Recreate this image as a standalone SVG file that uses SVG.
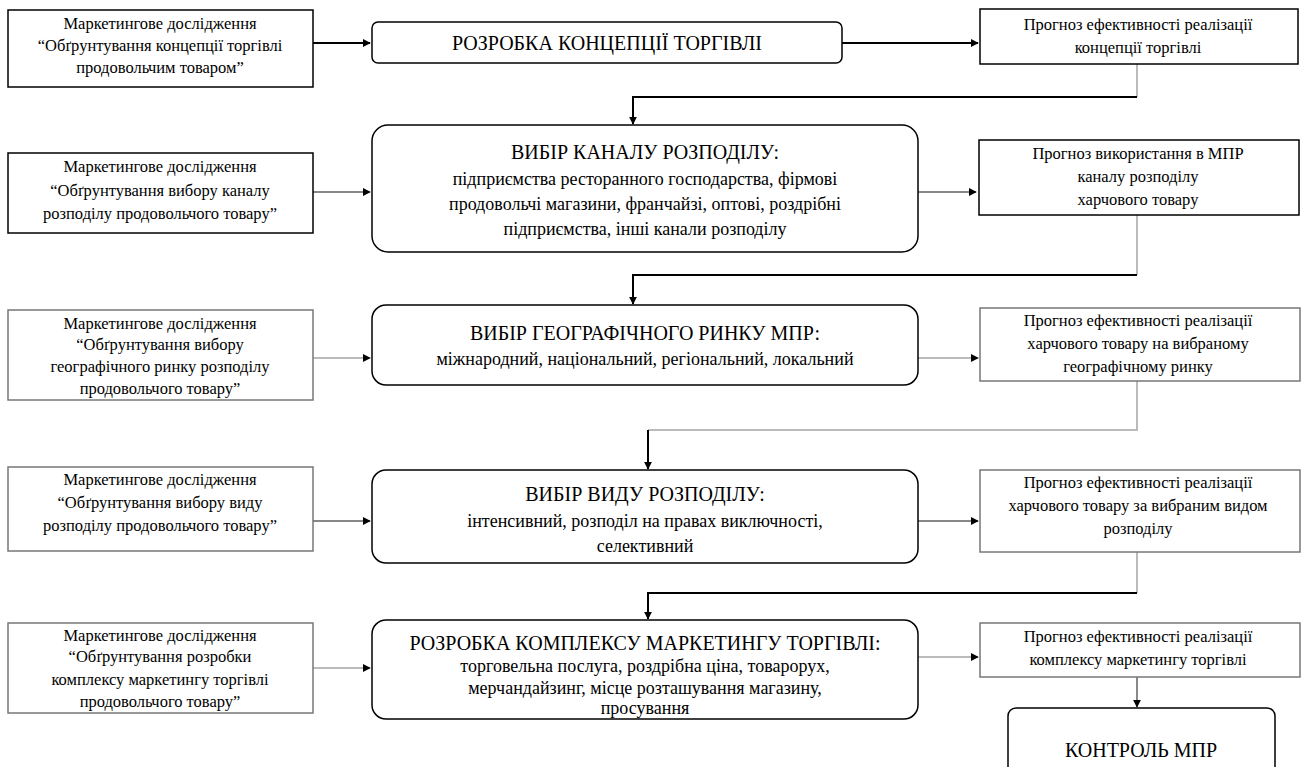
<svg xmlns="http://www.w3.org/2000/svg" width="1301" height="767" viewBox="0 0 1301 767">
<style>
.bg{fill:#fff}
.box{fill:#fff;stroke:#000;stroke-width:1.5}
.gbox{fill:#fff;stroke:#777;stroke-width:1.5}
text{font-family:"Liberation Serif","Tinos","Times New Roman","DejaVu Serif",serif;fill:#000;text-anchor:middle}
.s{font-size:16.5px}
.t{font-size:20px}
.m{font-size:18px}
.c{fill:none;stroke:#000;stroke-width:2}
.cg{fill:none;stroke:#888;stroke-width:2}
.cl{fill:none;stroke:#bbb;stroke-width:2}
</style>
<defs>
<marker id="ah" viewBox="0 0 10 10" refX="9" refY="5" markerWidth="4" markerHeight="4" orient="auto"><path d="M0,0 L10,5 L0,10 z" fill="#000"/></marker>
</defs>
<rect class="bg" width="1301" height="767"/>
<g id="connectors">
<path class="c" d="M313,43 H370" marker-end="url(#ah)"/>
<path class="c" d="M842,43 H978" marker-end="url(#ah)"/>
<path class="cl" d="M1137,64 V97"/>
<path class="c" d="M1137,97 H633 V124" marker-end="url(#ah)"/>
<path class="cg" d="M313,192 H370" marker-end="url(#ah)"/>
<path class="cg" d="M918,192 H976" marker-end="url(#ah)"/>
<path class="cl" d="M1137,215 V275"/>
<path class="c" d="M1137,275 H633 V304" marker-end="url(#ah)"/>
<path class="cl" d="M313,358 H370" marker-end="url(#ah)"/>
<path class="cl" d="M918,358 H978" marker-end="url(#ah)"/>
<path class="cl" d="M1137,381 V430 H648"/>
<path class="c" d="M648,430 V469" marker-end="url(#ah)"/>
<path class="cg" d="M313,521 H370" marker-end="url(#ah)"/>
<path class="cg" d="M918,521 H978" marker-end="url(#ah)"/>
<path class="cl" d="M1137,552 V593"/>
<path class="c" d="M1137,593 H648 V619" marker-end="url(#ah)"/>
<path class="cl" d="M313,668 H370" marker-end="url(#ah)"/>
<path class="cl" d="M918,657 H978" marker-end="url(#ah)"/>
<path class="cg" d="M1137,677 V707" marker-end="url(#ah)"/>
</g>
<g id="left1"><rect class="box" x="8" y="10" width="305" height="77"/>
<text class="s" x="160" y="29">Маркетингове дослідження</text>
<text class="s" x="160" y="51">“Обґрунтування концепції торгівлі</text>
<text class="s" x="160" y="73">продовольчим товаром”</text></g>
<g id="center1"><rect class="box" x="372" y="22" width="470" height="41" rx="6"/>
<text class="t" x="607" y="50">РОЗРОБКА КОНЦЕПЦІЇ ТОРГІВЛІ</text></g>
<g id="right1"><rect class="box" x="980" y="9" width="318" height="55"/>
<text class="s" x="1138" y="30">Прогноз ефективності реалізації</text>
<text class="s" x="1138" y="53">концепції торгівлі</text></g>

<g id="left2"><rect class="box" x="8" y="153" width="305" height="80"/>
<text class="s" x="160" y="172">Маркетингове дослідження</text>
<text class="s" x="160" y="196">“Обґрунтування вибору каналу</text>
<text class="s" x="160" y="219">розподілу продовольчого товару”</text></g>
<g id="center2"><rect class="box" x="372" y="125" width="546" height="127" rx="16"/>
<text class="t" x="645" y="159">ВИБІР КАНАЛУ РОЗПОДІЛУ:</text>
<text class="m" x="645" y="185">підприємства ресторанного господарства, фірмові</text>
<text class="m" x="645" y="210">продовольчі магазини, франчайзі, оптові, роздрібні</text>
<text class="m" x="645" y="235">підприємства, інші канали розподілу</text></g>
<g id="right2"><rect class="box" x="979" y="140" width="320" height="75"/>
<text class="s" x="1138" y="159">Прогноз використання в МПР</text>
<text class="s" x="1138" y="182">каналу розподілу</text>
<text class="s" x="1138" y="205">харчового товару</text></g>

<g id="left3"><rect class="gbox" x="8" y="310" width="305" height="90"/>
<text class="s" x="160" y="329">Маркетингове дослідження</text>
<text class="s" x="160" y="350">“Обґрунтування вибору</text>
<text class="s" x="160" y="372">географічного ринку розподілу</text>
<text class="s" x="160" y="394">продовольчого товару”</text></g>
<g id="center3"><rect class="box" x="372" y="305" width="546" height="80" rx="14"/>
<text class="t" x="645" y="340">ВИБІР ГЕОГРАФІЧНОГО РИНКУ МПР:</text>
<text class="m" x="645" y="365">міжнародний, національний, регіональний, локальний</text></g>
<g id="right3"><rect class="gbox" x="980" y="308" width="320" height="73"/>
<text class="s" x="1138" y="326">Прогноз ефективності реалізації</text>
<text class="s" x="1138" y="349">харчового товару на вибраному</text>
<text class="s" x="1138" y="372">географічному ринку</text></g>

<g id="left4"><rect class="gbox" x="8" y="467" width="305" height="84"/>
<text class="s" x="160" y="485">Маркетингове дослідження</text>
<text class="s" x="160" y="508">“Обґрунтування вибору виду</text>
<text class="s" x="160" y="531">розподілу продовольчого товару”</text></g>
<g id="center4"><rect class="box" x="372" y="470" width="546" height="93" rx="14"/>
<text class="t" x="645" y="501">ВИБІР ВИДУ РОЗПОДІЛУ:</text>
<text class="m" x="645" y="527">інтенсивний, розподіл на правах виключності,</text>
<text class="m" x="645" y="552">селективний</text></g>
<g id="right4"><rect class="gbox" x="980" y="470" width="320" height="82"/>
<text class="s" x="1138" y="488">Прогноз ефективності реалізації</text>
<text class="s" x="1138" y="511">харчового товару за вибраним видом</text>
<text class="s" x="1138" y="534">розподілу</text></g>

<g id="left5"><rect class="gbox" x="8" y="623" width="305" height="90"/>
<text class="s" x="160" y="641">Маркетингове дослідження</text>
<text class="s" x="160" y="662">“Обґрунтування розробки</text>
<text class="s" x="160" y="685">комплексу маркетингу торгівлі</text>
<text class="s" x="160" y="707">продовольчого товару”</text></g>
<g id="center5"><rect class="box" x="372" y="620" width="546" height="99" rx="14"/>
<text class="t" x="645" y="650">РОЗРОБКА КОМПЛЕКСУ МАРКЕТИНГУ ТОРГІВЛІ:</text>
<text class="m" x="645" y="672">торговельна послуга, роздрібна ціна, товарорух,</text>
<text class="m" x="645" y="694">мерчандайзинг, місце розташування магазину,</text>
<text class="m" x="645" y="714">просування</text></g>
<g id="right5"><rect class="gbox" x="980" y="623" width="320" height="54"/>
<text class="s" x="1138" y="642">Прогноз ефективності реалізації</text>
<text class="s" x="1138" y="665">комплексу маркетингу торгівлі</text></g>

<g id="control"><rect class="box" x="1008" y="708" width="267" height="70" rx="8"/>
<text class="t" x="1141" y="757">КОНТРОЛЬ МПР</text></g>
</svg>
